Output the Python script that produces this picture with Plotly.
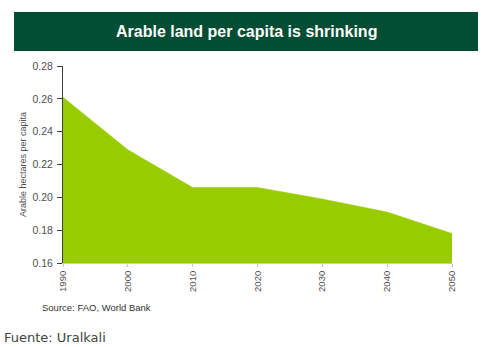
import plotly.graph_objects as go

years = [1990, 2000, 2010, 2020, 2030, 2040, 2050]
hectares = [0.261, 0.229, 0.206, 0.206, 0.199, 0.191, 0.178]
y_ticks = [0.16, 0.18, 0.20, 0.22, 0.24, 0.26, 0.28]

GREEN = "#99cc00"
HEADER = "#024d33"
TXT = "#505050"

fig = go.Figure()
fig.add_trace(go.Scatter(
    x=years, y=hectares, mode="lines",
    line=dict(color=GREEN, width=0.5),
    fill="tozeroy", fillcolor=GREEN,
    hoverinfo="x+y",
))

fig.update_layout(
    width=484, height=347,
    margin=dict(l=63, r=32, t=66, b=84),
    paper_bgcolor="white", plot_bgcolor="white",
    showlegend=False,
    font=dict(family="Arial, Liberation Sans, sans-serif", color=TXT),
    xaxis=dict(
        range=[1990, 2050], tickvals=years, ticktext=[str(y) for y in years],
        tickangle=-90, tickfont=dict(size=9.5, color=TXT),
        showgrid=False, zeroline=False,
        showline=True, linecolor="#c8c8c8", linewidth=1,
        ticks="outside", ticklen=3, tickcolor="#c8c8c8",
    ),
    yaxis=dict(
        range=[0.16, 0.28], tickvals=y_ticks,
        ticktext=[f"{v:.2f}" for v in y_ticks],
        tickfont=dict(size=10.5, color=TXT),
        showgrid=False, zeroline=False,
        showline=True, linecolor="#404040", linewidth=1,
        ticks="outside", ticklen=5, tickcolor="#404040",
        ticklabelstandoff=2,
        title=dict(text="Arable hectares per capita",
                   font=dict(size=9, color=TXT), standoff=4),
    ),
    shapes=[dict(
        type="rect", xref="paper", yref="paper",
        x0=(14 - 63) / 389, x1=(478 - 63) / 389,
        y0=(263 - 51) / 197, y1=(263 - 12) / 197,
        fillcolor=HEADER, line=dict(width=0), layer="above",
    )],
    annotations=[
        dict(text="<b>Arable land per capita is shrinking</b>",
             xref="paper", yref="paper",
             x=(246 - 63) / 389, y=(263 - 32) / 197,
             xanchor="center", yanchor="middle", showarrow=False,
             font=dict(size=16, color="white",
                       family="Arial, Liberation Sans, sans-serif")),
        dict(text="Source: FAO, World Bank",
             xref="paper", yref="paper",
             x=(40 - 63) / 389, y=(263 - 307) / 197,
             xanchor="left", yanchor="middle", showarrow=False,
             font=dict(size=9.5, color="#333333")),
        dict(text="Fuente: Uralkali",
             xref="paper", yref="paper",
             x=(2 - 63) / 389, y=(263 - 337) / 197,
             xanchor="left", yanchor="middle", showarrow=False,
             font=dict(size=13, color="#444444", family="DejaVu Sans")),
    ],
)

fig.write_html("out.html")
